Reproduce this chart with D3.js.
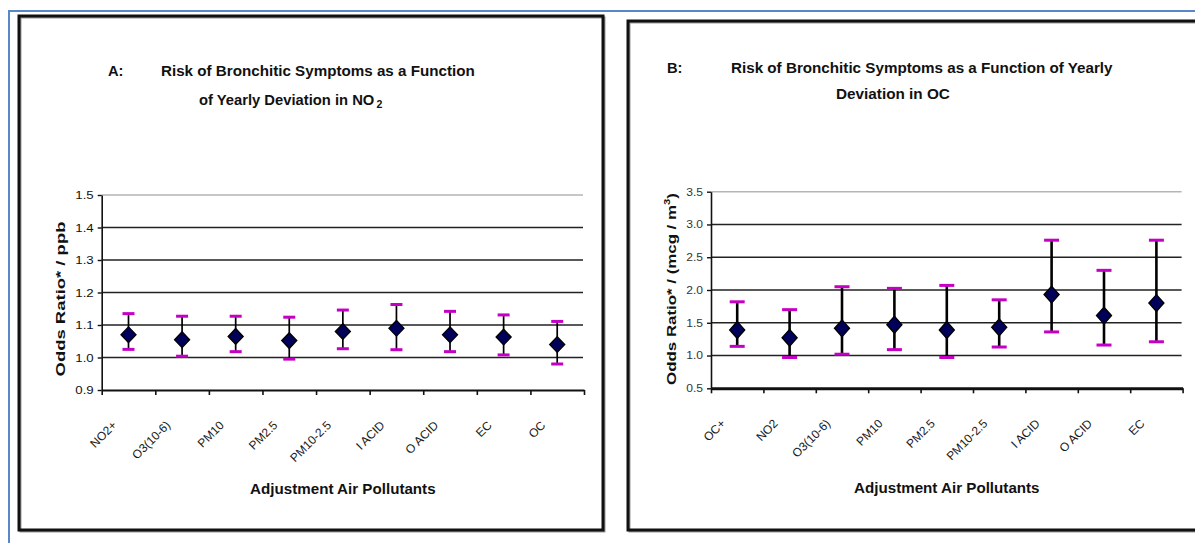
<!DOCTYPE html>
<html><head><meta charset="utf-8">
<script src="https://cdn.jsdelivr.net/npm/d3@7"></script>
<style>
body{margin:0;background:#fff;}
svg{display:block;}
</style>
</head><body>
<svg width="1195" height="543"></svg>
<script>
// ---------- DATA ----------
const catsA = ["NO2+","O3(10-6)","PM10","PM2.5","PM10-2.5","I ACID","O ACID","EC","OC"];
const orA   = [1.070, 1.055, 1.065, 1.052, 1.080, 1.090, 1.070, 1.063, 1.040];
const loA   = [1.025, 1.004, 1.018, 0.995, 1.027, 1.024, 1.018, 1.008, 0.980];
const hiA   = [1.135, 1.127, 1.127, 1.124, 1.146, 1.163, 1.142, 1.131, 1.111];
const ticksA = [0.9, 1.0, 1.1, 1.2, 1.3, 1.4, 1.5];

const catsB = ["OC+","NO2","O3(10-6)","PM10","PM2.5","PM10-2.5","I ACID","O ACID","EC"];
const orB   = [1.39, 1.27, 1.415, 1.47, 1.39, 1.43, 1.93, 1.61, 1.80];
const loB   = [1.14, 0.97, 1.02, 1.09, 0.97, 1.13, 1.36, 1.16, 1.21];
const hiB   = [1.82, 1.70, 2.05, 2.025, 2.07, 1.85, 2.76, 2.30, 2.76];
const ticksB = [0.5, 1.0, 1.5, 2.0, 2.5, 3.0, 3.5];

const titleA1 = "Risk of Bronchitic Symptoms as a Function";
const titleA2 = "of Yearly Deviation in NO";
const titleB1 = "Risk of Bronchitic Symptoms as a Function of Yearly";
const titleB2 = "Deviation in OC";
const xTitle = "Adjustment Air Pollutants";

// ---------- DRAW ----------
const FONT = '"Liberation Sans", Arial, Helvetica, sans-serif';
const svg = d3.select("svg");

// outer blue frame
svg.append("line").attr("x1",8).attr("x2",1195).attr("y1",11).attr("y2",11)
  .attr("stroke","#5a88c6").attr("stroke-width",2);
svg.append("line").attr("x1",9).attr("x2",9).attr("y1",10).attr("y2",543)
  .attr("stroke","#5a88c6").attr("stroke-width",2);

// panel frames
function frame(x,y,w,h){
  svg.append("rect").attr("x",x+1.5).attr("y",y+1.5).attr("width",w).attr("height",h)
    .attr("fill","none").attr("stroke","#9a9a9a").attr("stroke-width",2);
  svg.append("rect").attr("x",x).attr("y",y).attr("width",w).attr("height",h)
    .attr("fill","none").attr("stroke","#111").attr("stroke-width",3);
}
frame(19,16,584,514);
frame(628,21,620,509);

function addText(parent, content, o){
  const t = parent.append("text")
    .attr("font-size", o.size || 12)
    .attr("font-weight", o.weight || "normal")
    .attr("text-anchor", o.anchor || "start")
    .attr("fill", o.fill || "#111")
    .style("font-family", FONT);
  if (typeof content === "function") content(t); else t.text(content);
  const w = t.node().getBBox().width;
  const sx = o.width ? o.width / w : (o.stretch || 1);
  t.attr("transform", `translate(${o.x},${o.y}) rotate(${o.rotate||0}) scale(${sx},1)`);
  return t;
}

function panel(cfg){
  const g = svg.append("g");
  const y = d3.scaleLinear().domain(cfg.yDomain).range([cfg.yBot, cfg.yTop]);
  const xi = d3.scaleLinear().domain([0, cfg.cats.length]).range([cfg.x0, cfg.x1]);
  const xb = d3.scaleBand().domain(cfg.cats).range([cfg.x0, cfg.x1]).padding(0);
  const cx = d => xb(d) + xb.bandwidth()/2;

  // gridlines
  const top = cfg.ticks[cfg.ticks.length-1];
  g.append("g").selectAll("line").data(cfg.ticks.slice(1)).join("line")
    .attr("x1", cfg.x0).attr("x2", cfg.x1 - 1)
    .attr("y1", d => y(d)).attr("y2", d => y(d))
    .attr("stroke", d => d === top ? "#b5b5b5" : "#222")
    .attr("stroke-width", d => d === top ? 1.5 : 1.6);

  // y axis
  const ya = g.append("g").attr("transform", `translate(${cfg.x0},0)`)
    .call(d3.axisLeft(y).tickValues(cfg.ticks).tickSize(4).tickSizeOuter(0).tickFormat(d3.format(".1f")));
  ya.select(".domain").attr("stroke","#111").attr("stroke-width",1.6);
  ya.selectAll(".tick line").attr("stroke","#111").attr("stroke-width",1.4);
  ya.selectAll(".tick text")
    .attr("x",0).attr("fill", cfg.tickFill)
    .style("font-family", FONT).attr("font-size", cfg.tickSize)
    .attr("transform", `translate(-8,0) scale(1.15,1)`);

  // x axis (boundary ticks)
  const xa = g.append("g").attr("transform", `translate(0,${cfg.yBot})`)
    .call(d3.axisBottom(xi).tickValues(d3.range(cfg.cats.length+1)).tickSize(5).tickSizeOuter(0).tickFormat(""));
  xa.select(".domain").attr("stroke","#111").attr("stroke-width",cfg.xAxisW);
  xa.selectAll(".tick line").attr("stroke","#111").attr("stroke-width",1.6);

  // x labels
  cfg.cats.forEach(c => {
    addText(g, c, {x: cx(c) - 11, y: cfg.yBot + 36, anchor: "end", rotate: -45,
      size: 12, stretch: 1.0, fill: "#1a1a1a"});
  });

  // error bars
  const data = cfg.cats.map((c,i) => ({c, v: cfg.or[i], lo: cfg.lo[i], hi: cfg.hi[i]}));
  g.append("g").selectAll("line").data(data).join("line")
    .attr("x1", d => cx(d.c)).attr("x2", d => cx(d.c))
    .attr("y1", d => y(d.hi)).attr("y2", d => y(d.lo))
    .attr("stroke","#000").attr("stroke-width", cfg.stemW);
  const caps = g.append("g");
  data.forEach(d => {
    [d.hi, d.lo].forEach(v => {
      caps.append("line")
        .attr("x1", cx(d.c) - cfg.capW/2).attr("x2", cx(d.c) + cfg.capW/2)
        .attr("y1", y(v)).attr("y2", y(v))
        .attr("stroke","#c400c4").attr("stroke-width",3);
    });
  });
  // diamonds
  const sym = d3.symbol().type(d3.symbolSquare).size(cfg.diamond*cfg.diamond/2);
  g.append("g").selectAll("path").data(data).join("path")
    .attr("d", sym)
    .attr("transform", d => `translate(${cx(d.c)},${y(d.v)}) scale(1,${cfg.dScaleY}) rotate(45)`)
    .attr("fill","#00005a").attr("stroke","#000").attr("stroke-width",1.3);

  // axis titles
  addText(g, xTitle, {x: (cfg.x0+cfg.x1)/2, y: cfg.xTitleY, anchor: "middle",
    size: 14, weight: "bold", width: 186});
  addText(g, cfg.yTitle, {x: cfg.yTitleX, y: cfg.yTitleY, anchor: "middle", rotate: -90,
    size: 13.5, weight: "bold", width: cfg.yTitleLen});
}

panel({cats: catsA, or: orA, lo: loA, hi: hiA, ticks: ticksA, yDomain: [0.9, 1.5],
  x0: 101.7, x1: 584, yBot: 390, yTop: 195, tickSize: 11.5, tickFill: "#111",
  xAxisW: 2, stemW: 1.7, capW: 12, diamond: 15, dScaleY: 1.05,
  xTitleY: 494, yTitleX: 65, yTitleY: 299, yTitleLen: 155,
  yTitle: t => { t.text("Odds Ratio* / ppb"); }});

panel({cats: catsB, or: orB, lo: loB, hi: hiB, ticks: ticksB, yDomain: [0.5, 3.5],
  x0: 711, x1: 1182.6, yBot: 388.3, yTop: 191.7, tickSize: 10.5, tickFill: "#333",
  xAxisW: 3, stemW: 2.6, capW: 15, diamond: 15, dScaleY: 1.12,
  xTitleY: 493, yTitleX: 676, yTitleY: 289, yTitleLen: 192,
  yTitle: t => {
    t.append("tspan").text("Odds Ratio* / (mcg / m");
    t.append("tspan").attr("dy",-6).attr("font-size",9).text("3");
    t.append("tspan").attr("dy",6).text(")");
  }});

// titles
addText(svg, "A:", {x: 108, y: 76, size: 14, weight: "bold", stretch: 1.05});
addText(svg, titleA1, {x: 161, y: 76, size: 14, weight: "bold", width: 314});
addText(svg, t => {
  t.append("tspan").text(titleA2);
  t.append("tspan").attr("dy",3).attr("dx",2).attr("font-size",10).text("2");
}, {x: 199, y: 105, size: 14, weight: "bold", width: 184});

addText(svg, "B:", {x: 667, y: 73, size: 14, weight: "bold", stretch: 1.05});
addText(svg, titleB1, {x: 731, y: 73, size: 14, weight: "bold", width: 382});
addText(svg, titleB2, {x: 836, y: 99, size: 14, weight: "bold", width: 114});
</script>
</body></html>
